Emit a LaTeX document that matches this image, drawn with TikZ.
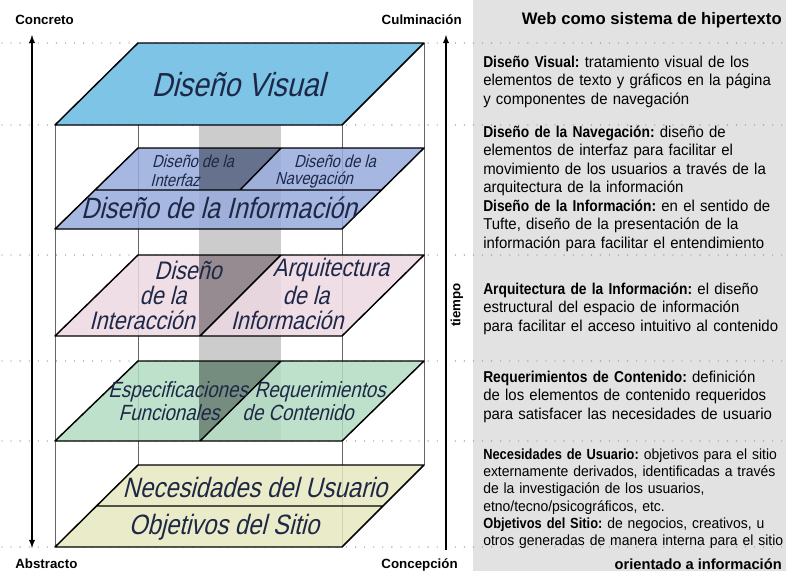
\documentclass[tikz,border=0pt]{standalone}
\usepackage{fontspec}
\setmainfont{Liberation Sans}
\newfontfamily\planefont[FakeSlant=0.25,FakeStretch=0.85]{Liberation Sans}
\newfontfamily\descfont[FakeStretch=0.95]{Liberation Sans}
\newfontfamily\descbold[FakeStretch=0.877]{Liberation Sans Bold}
\newcommand\termbf[1]{{\descbold #1}}
\usepackage{xcolor}
\usetikzlibrary{arrows}
\usetikzlibrary{positioning}
\definecolor{visualblue}{RGB}{125,196,230}
\definecolor{infoblue}{RGB}{150,170,220}
\definecolor{interpink}{RGB}{236,216,226}
\definecolor{specgreen}{RGB}{178,220,194}
\definecolor{needyellow}{RGB}{230,232,190}
\definecolor{panelgray}{RGB}{226,226,226}
\definecolor{planeink}{RGB}{30,40,70}
\frenchspacing
\tikzset{plane/.style={draw=black, line width=1.1pt, line join=round},
  guide/.style={draw=black!60, line width=0.6pt},
  dotrow/.style={draw=black!45, line width=1pt, line cap=round, dash pattern=on 0pt off 6.8pt},
  axis/.style={draw=black, line width=1.1pt},
  side/.style={font=\bfseries\fontsize{10}{12}\selectfont, inner sep=0pt},
  desc/.style={text width=320pt, align=left, inner sep=0pt, anchor=base west, font=\descfont\fontsize{11.8}{13.9}\selectfont},
  planetext/.style={text=planeink, inner sep=0pt}}

\begin{document}
\begin{tikzpicture}[x=0.75pt,y=-0.75pt,>=latex,line join=bevel]
\useasboundingbox (0,0) rectangle (786,571);
%%
\fill[panelgray] (473,0) rectangle (786,571);
\foreach \yy in {43,125,255,361,441,547}
  \draw[dotrow] (2,\yy) -- (786,\yy);
% box edges
\draw[guide] (138,43) -- (138,465);
\draw[guide] (424,43) -- (424,465);
\draw[guide] (55,125) -- (55,547);
\draw[guide] (342,125) -- (342,547);
\fill[black!20] (199,125) rectangle (281,441);
% planes
\fill[needyellow,fill opacity=0.85] (55,547) -- (342,547) -- (424,465) -- (138,465) -- cycle;
\draw[plane] (55,547) -- (342,547) -- (424,465) -- (138,465) -- cycle (97,506) -- (383,506);
\fill[specgreen,fill opacity=0.85] (55,441) -- (342,441) -- (424,361) -- (138,361) -- cycle;
\begin{scope}
  \clip (55,441) -- (200,441) -- (281,361) -- (138,361) -- cycle;
  \fill[black,opacity=0.35] (199,361) rectangle (281,441);
\end{scope}
\draw[plane] (55,441) -- (342,441) -- (424,361) -- (138,361) -- cycle (281,361) -- (200,441);
\fill[interpink,fill opacity=0.85] (55,336) -- (342,336) -- (424,255) -- (138,255) -- cycle;
\begin{scope}
  \clip (55,336) -- (200,336) -- (281,255) -- (138,255) -- cycle;
  \fill[black,opacity=0.35] (199,255) rectangle (281,336);
\end{scope}
\draw[plane] (55,336) -- (342,336) -- (424,255) -- (138,255) -- cycle (281,255) -- (200,336);
\fill[infoblue,fill opacity=0.85] (55,229) -- (342,229) -- (424,148) -- (138,148) -- cycle;
\begin{scope}
  \clip (95,190) -- (240,190) -- (281,148) -- (138,148) -- cycle;
  \fill[black,opacity=0.35] (199,148) rectangle (281,190);
\end{scope}
\draw[plane] (55,229) -- (342,229) -- (424,148) -- (138,148) -- cycle (95,190) -- (382,190) (281,148) -- (240,190);
\filldraw[plane,fill=visualblue] (55,125) -- (342,125) -- (424,43) -- (138,43) -- cycle;
% plane labels
\node (visual) at (238,85) [planetext,font=\planefont\fontsize{25}{25}\selectfont] {Diseño Visual};
\node (int1) at (193,161) [planetext,font=\planefont\fontsize{13}{13}\selectfont] {Diseño de la};
\node (int2) at (175,180) [planetext,font=\planefont\fontsize{13}{13}\selectfont] {Interfaz};
\node (nav1) at (335,161) [planetext,font=\planefont\fontsize{13}{13}\selectfont] {Diseño de la};
\node (nav2) at (314,180) [planetext,font=\planefont\fontsize{13}{13}\selectfont] {Navegación};
\node (infodesign) at (219,208) [planetext,font=\planefont\fontsize{22}{22}\selectfont] {Diseño de la Información};
\node (inter1) at (188,270) [planetext,font=\planefont\fontsize{19}{19}\selectfont] {Diseño};
\node (inter2) at (163,295) [planetext,font=\planefont\fontsize{19}{19}\selectfont] {de la};
\node (inter3) at (142,320) [planetext,font=\planefont\fontsize{19}{19}\selectfont] {Interacción};
\node (arq1) at (331,270) [planetext,font=\planefont\fontsize{19}{19}\selectfont] {Arquitectura};
\node (arq2) at (306,295) [planetext,font=\planefont\fontsize{19}{19}\selectfont] {de la};
\node (arq3) at (287,320) [planetext,font=\planefont\fontsize{19}{19}\selectfont] {Información};
\node (spec1) at (178,392) [planetext,font=\planefont\fontsize{16.5}{16.5}\selectfont] {Especificaciones};
\node (spec2) at (169,413) [planetext,font=\planefont\fontsize{16.5}{16.5}\selectfont] {Funcionales};
\node (req1) at (320,392) [planetext,font=\planefont\fontsize{16.5}{16.5}\selectfont] {Requerimientos};
\node (req2) at (298,413) [planetext,font=\planefont\fontsize{16.5}{16.5}\selectfont] {de Contenido};
\node (needs) at (255,487) [planetext,font=\planefont\fontsize{21}{21}\selectfont] {Necesidades del Usuario};
\node (goals) at (224,527) [planetext,font=\planefont\fontsize{21}{21}\selectfont] {Objetivos del Sitio};
% axes
\coordinate (concretoTip) at (32,35);
\coordinate (abstractoTip) at (32,548);
\draw[axis,<->] (concretoTip) -- (abstractoTip);
\coordinate (culmTip) at (446,35);
\coordinate (concepEnd) at (446,550);
\draw[axis,->] (concepEnd) -- (culmTip);
\node (concreto) at (15,24) [side,anchor=base west] {Concreto};
\node (abstracto) at (15,568) [side,anchor=base west] {Abstracto};
\node (culminacion) at (462,24) [side,anchor=base east] {Culminación};
\node (concepcion) at (458,568) [side,anchor=base east] {Concepción};
\node (tiempo) at (457,305) [side,rotate=90] {tiempo};
% right column
\node (title) at (782,24) [anchor=base east,inner sep=0pt,font=\bfseries\fontsize{12.5}{15}\selectfont] {Web como sistema de hipertexto};
\node (dvtext) at (483,67) [desc] {\termbf{Diseño Visual:} tratamiento visual de los\\elementos de texto y gráficos en la página\\y componentes de navegación};
\node (navtext) at (483,137) [desc] {\termbf{Diseño de la Navegación:} diseño de\\elementos de interfaz para facilitar el\\movimiento de los usuarios a través de la\\arquitectura de la información\\\termbf{Diseño de la Información:} en el sentido de\\Tufte, diseño de la presentación de la\\información para facilitar el entendimiento};
\node (arqtext) at (483,294) [desc] {\termbf{Arquitectura de la Información:} el diseño\\estructural del espacio de información\\para facilitar el acceso intuitivo al contenido};
\node (reqtext) at (483,382) [desc] {\termbf{Requerimientos de Contenido:} definición\\de los elementos de contenido requeridos\\para satisfacer las necesidades de usuario};
\node (needtext) at (483,459) [desc,font=\descfont\fontsize{11}{13}\selectfont] {\termbf{Necesidades de Usuario:} objetivos para el sitio\\externamente derivados, identificadas a través\\de la investigación de los usuarios,\\etno/tecno/psicográficos, etc.\\\termbf{Objetivos del Sitio:} de negocios, creativos, u\\otros generadas de manera interna para el sitio};
\node (orient) at (782,569) [anchor=base east,inner sep=0pt,font=\bfseries\fontsize{11}{13}\selectfont] {orientado a información};
%
\end{tikzpicture}
\end{document}
